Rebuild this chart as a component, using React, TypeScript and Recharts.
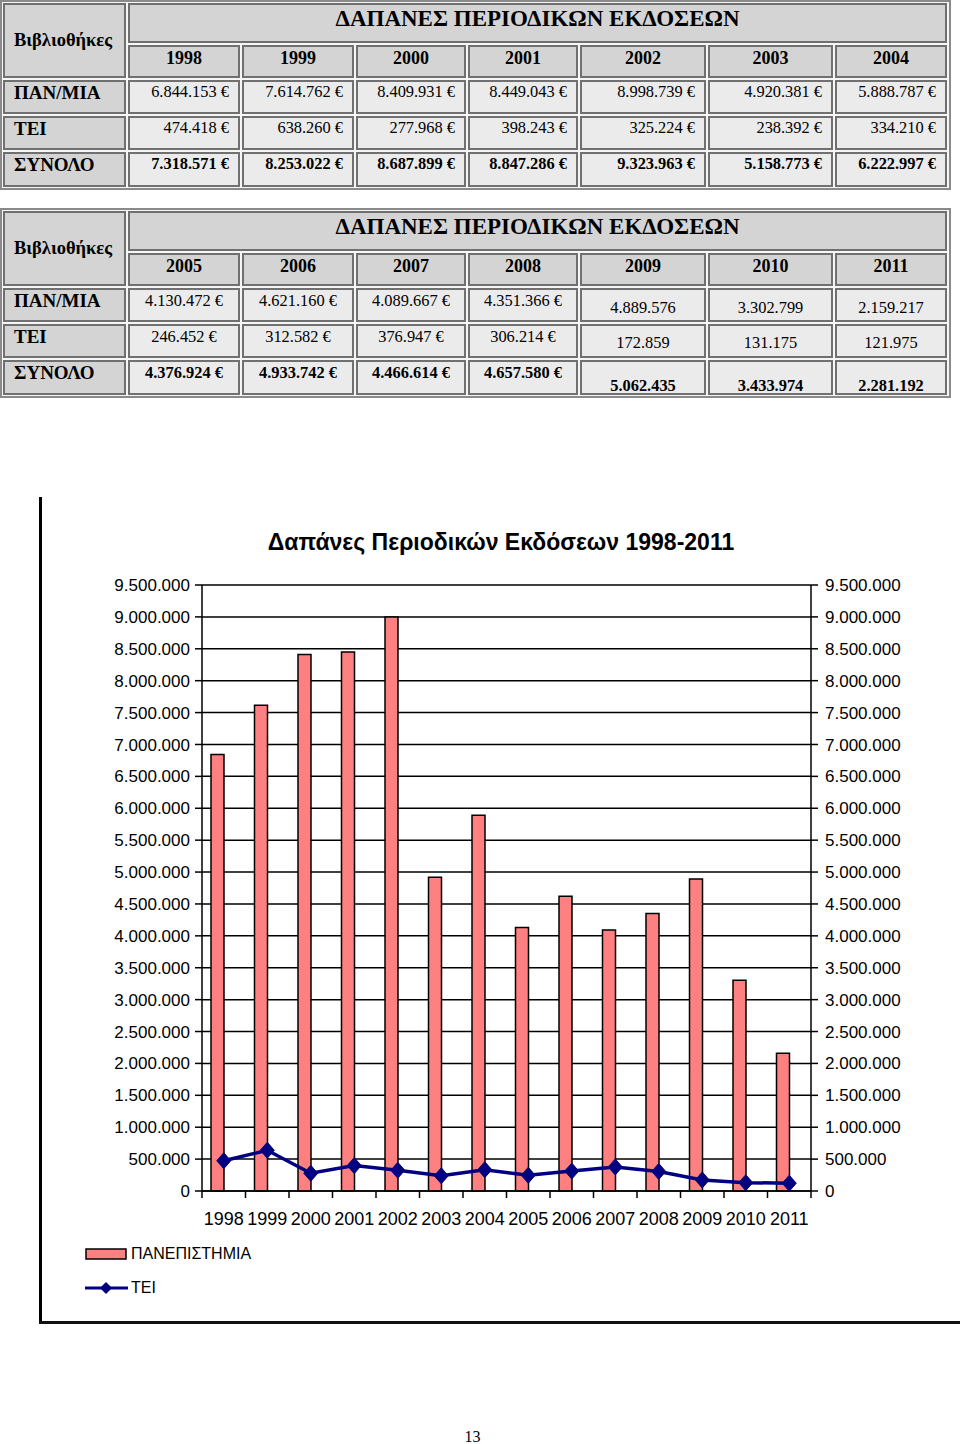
import React from 'react';
import { ComposedChart, Bar, Line, XAxis, YAxis, CartesianGrid, Legend } from 'recharts';

const years = ['1998', '1999', '2000', '2001', '2002', '2003', '2004', '2005', '2006', '2007', '2008', '2009', '2010', '2011'];
const panValues = [6844153, 7614762, 8409931, 8449043, 8998739, 4920381, 5888787, 4130472, 4621160, 4089667, 4351366, 4889576, 3302799, 2159217];
const teiValues = [474418, 638260, 277968, 398243, 325224, 238392, 334210, 246452, 312582, 376947, 306214, 172859, 131175, 121975];
const totalValues = [7318571, 8253022, 8687899, 8847286, 9323963, 5158773, 6222997, 4376924, 4933742, 4466614, 4657580, 5062435, 3433974, 2281192];
const euroFlags = [true, true, true, true, true, true, true, true, true, true, true, false, false, false];
const yTicks = [0, 500000, 1000000, 1500000, 2000000, 2500000, 3000000, 3500000, 4000000, 4500000, 5000000, 5500000, 6000000, 6500000, 7000000, 7500000, 8000000, 8500000, 9000000, 9500000];
const rowLabels = ['ΠΑΝ/ΜΙΑ', 'ΤΕΙ', 'ΣΥΝΟΛΟ'];
const tableTitle = 'ΔΑΠΑΝΕΣ ΠΕΡΙΟΔΙΚΩΝ ΕΚΔΟΣΕΩΝ';
const chartTitle = 'Δαπάνες Περιοδικών Εκδόσεων 1998-2011';
const seriesNames = { pan: 'ΠΑΝΕΠΙΣΤΗΜΙΑ', tei: 'ΤΕΙ' };

const fmt = (n: number) => String(n).replace(/\B(?=(\d{3})+(?!\d))/g, '.');

const chartData = years.map((y, i) => ({ year: y, pan: panValues[i], tei: teiValues[i], spacer: null }));

const colX = [2, 127, 241, 355, 467, 579, 707, 834, 948];
const SERIF = '"Liberation Serif", "Times New Roman", serif';
const SANS = '"Liberation Sans", Arial, sans-serif';

type CellProps = {
  x0: number; x1: number; y0: number; y1: number; bg: string;
  children?: React.ReactNode; style?: React.CSSProperties;
};

const Cell = ({ x0, x1, y0, y1, bg, children, style }: CellProps) => (
  <div
    style={{
      position: 'absolute', left: x0 + 1, top: y0 + 1, width: x1 - x0 - 2, height: y1 - y0 - 2,
      boxSizing: 'border-box', border: '2px solid #707070', background: bg,
      display: 'flex', fontFamily: SERIF, color: '#000', lineHeight: 1.1, ...style,
    }}
  >
    {children}
  </div>
);

const HEAD = '#d4d4d4';
const DATA = '#ebebeb';

const DataTable = ({ top, start, second }: { top: number; start: number; second: boolean }) => {
  const rows = [top, top + 42, top + 77, top + 113, top + 149, top + 186];
  const idx = [0, 1, 2, 3, 4, 5, 6].map((k) => start + k);
  const series = [panValues, teiValues, totalValues];
  return (
    <div style={{ position: 'absolute', left: 0, top: 0 }}>
      <div style={{ position: 'absolute', left: 0, top: top - 2, width: 951, height: 190, boxSizing: 'border-box', border: '2px solid #8a8a8a', background: '#f6f6f6' }} />
      <Cell x0={colX[0]} x1={colX[1]} y0={rows[0]} y1={rows[2]} bg={HEAD} style={{ alignItems: 'center', paddingLeft: 9, fontWeight: 'bold', fontSize: 18.5 }}>
        Βιβλιοθήκες
      </Cell>
      <Cell x0={colX[1]} x1={colX[8]} y0={rows[0]} y1={rows[1]} bg={HEAD} style={{ justifyContent: 'center', alignItems: 'flex-start', paddingTop: 1, fontWeight: 'bold', fontSize: 23 }}>
        {tableTitle}
      </Cell>
      {idx.map((yi, k) => (
        <Cell key={'y' + yi} x0={colX[k + 1]} x1={colX[k + 2]} y0={rows[1]} y1={rows[2]} bg={HEAD} style={{ justifyContent: 'center', alignItems: 'flex-start', paddingTop: 2, fontWeight: 'bold', fontSize: 18 }}>
          {years[yi]}
        </Cell>
      ))}
      {rowLabels.map((lab, r) => (
        <Cell key={'l' + r} x0={colX[0]} x1={colX[1]} y0={rows[r + 2]} y1={rows[r + 3]} bg={HEAD} style={{ alignItems: 'flex-start', paddingTop: 1, paddingLeft: 9, fontWeight: 'bold', fontSize: 19 }}>
          {lab}
        </Cell>
      ))}
      {rowLabels.map((lab, r) =>
        idx.map((yi, k) => {
          const late = !euroFlags[yi];
          const txt = fmt(series[r][yi]) + (euroFlags[yi] ? ' €' : '');
          const st: React.CSSProperties = second
            ? { justifyContent: 'center', alignItems: 'flex-start', paddingTop: late ? (r === 2 ? 15 : r === 1 ? 8 : 9) : 2 }
            : { justifyContent: 'flex-end', alignItems: 'flex-start', paddingTop: 1, paddingRight: 9 };
          return (
            <Cell key={'c' + r + '_' + yi} x0={colX[k + 1]} x1={colX[k + 2]} y0={rows[r + 2]} y1={rows[r + 3]} bg={DATA} style={{ ...st, fontSize: 16.4, fontWeight: r === 2 ? 'bold' : 'normal' }}>
              {txt}
            </Cell>
          );
        })
      )}
    </div>
  );
};

const Diamond = (props: any) => {
  const { cx, cy } = props;
  if (cx == null || cy == null) return <g />;
  return <path d={`M${cx},${cy - 8} L${cx + 7},${cy} L${cx},${cy + 8} L${cx - 7},${cy} Z`} fill="#000080" stroke="#000080" />;
};

const XTick = (props: any) => {
  const { x, y, payload, index, visibleTicksCount } = props;
  const off = payload && payload.offset ? payload.offset : 0;
  const axisY = y - 20;
  return (
    <g>
      <line x1={x - off} x2={x - off} y1={axisY} y2={axisY + 7} stroke="#000" strokeWidth={1.5} />
      {index === visibleTicksCount - 1 ? (
        <line x1={x + off} x2={x + off} y1={axisY} y2={axisY + 7} stroke="#000" strokeWidth={1.5} />
      ) : null}
      <text x={x} y={y + 14} textAnchor="middle" fontFamily={SANS} fontSize={18} fill="#000">
        {payload.value}
      </text>
    </g>
  );
};

const LegendBox = () => (
  <div style={{ position: 'relative', width: 250, height: 60, fontFamily: SANS, fontSize: 16, color: '#000' }}>
    <svg width={50} height={60} style={{ position: 'absolute', left: 0, top: 0 }}>
      <rect x={1} y={6} width={40} height={10} fill="#FF8080" stroke="#000" strokeWidth={1.5} />
      <line x1={0} x2={43} y1={45} y2={45} stroke="#000080" strokeWidth={3} />
      <path d="M21,39 L27,45 L21,51 L15,45 Z" fill="#000080" />
    </svg>
    <div style={{ position: 'absolute', left: 46, top: 1, lineHeight: '20px' }}>{seriesNames.pan}</div>
    <div style={{ position: 'absolute', left: 46, top: 35, lineHeight: '20px' }}>{seriesNames.tei}</div>
  </div>
);

export default function App() {
  return (
    <div style={{ position: 'absolute', left: 0, top: 0, width: 960, height: 1444, background: '#fff', overflow: 'hidden' }}>
      <DataTable top={2} start={0} second={false} />
      <DataTable top={210} start={7} second={true} />

      <div style={{ position: 'absolute', left: 39, top: 497, width: 3, height: 827, background: '#000' }} />
      <div style={{ position: 'absolute', left: 39, top: 1321, width: 921, height: 3, background: '#111' }} />

      <div style={{ position: 'absolute', left: 200, top: 528, width: 602, textAlign: 'center', fontFamily: SANS, fontWeight: 'bold', fontSize: 23, lineHeight: '28px', color: '#000' }}>
        {chartTitle}
      </div>

      <div style={{ position: 'absolute', left: 40, top: 497 }}>
        <ComposedChart width={920} height={826} data={chartData} margin={{ top: 88, right: 29, bottom: 92, left: 12 }} barGap={0}>
          <CartesianGrid yAxisId="left" vertical={false} stroke="#000" strokeWidth={1.5} />
          <XAxis dataKey="year" height={40} axisLine={{ stroke: '#000', strokeWidth: 1.5 }} tickLine={false} tickSize={0} tickMargin={20} tick={<XTick />} interval={0} />
          <YAxis yAxisId="left" width={150} domain={[0, 9500000]} ticks={yTicks} tickFormatter={fmt} interval={0}
            axisLine={{ stroke: '#000', strokeWidth: 1.5 }} tickLine={{ stroke: '#000', strokeWidth: 1.5 }} tickSize={7} tickMargin={5}
            tick={{ fill: '#000', fontFamily: SANS, fontSize: 17 }} />
          <YAxis yAxisId="right" orientation="right" width={120} domain={[0, 9500000]} ticks={yTicks} tickFormatter={fmt} interval={0}
            axisLine={{ stroke: '#000', strokeWidth: 1.5 }} tickLine={{ stroke: '#000', strokeWidth: 1.5 }} tickSize={7} tickMargin={7}
            tick={{ fill: '#000', fontFamily: SANS, fontSize: 17, textAnchor: 'start' }} />
          <Bar yAxisId="left" dataKey="pan" name={seriesNames.pan} barSize={13} fill="#FF8080" stroke="#000" strokeWidth={1.5} isAnimationActive={false} />
          <Bar yAxisId="left" dataKey="spacer" barSize={13} fill="none" legendType="none" isAnimationActive={false} />
          <Line yAxisId="right" dataKey="pan" stroke="none" strokeWidth={0} dot={false} activeDot={false} legendType="none" isAnimationActive={false} />
          <Line yAxisId="left" dataKey="tei" name={seriesNames.tei} type="linear" stroke="#000080" strokeWidth={3.5} dot={<Diamond />} activeDot={false} isAnimationActive={false} />
          <Legend layout="vertical" align="center" verticalAlign="middle" content={<LegendBox />} wrapperStyle={{ left: 45, top: 746, width: 250, height: 60 }} />
        </ComposedChart>
      </div>

      <div style={{ position: 'absolute', left: 0, top: 1427, width: 945, textAlign: 'center', fontFamily: SERIF, fontSize: 16, lineHeight: '20px', color: '#000' }}>
        13
      </div>
    </div>
  );
}
